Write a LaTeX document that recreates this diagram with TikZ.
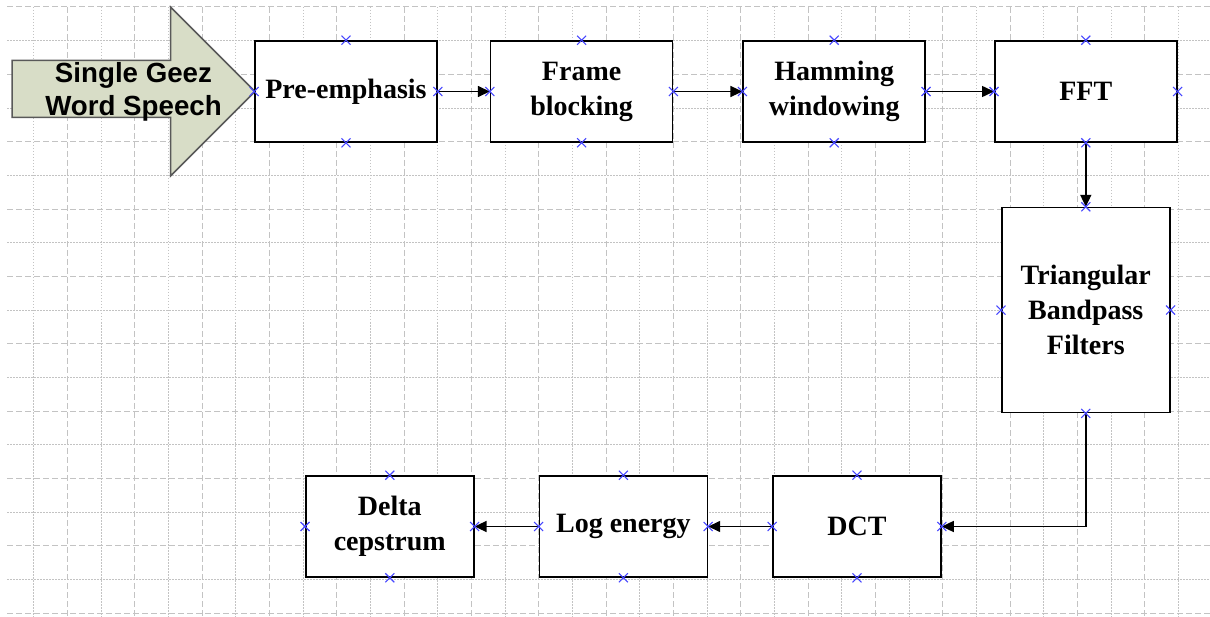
\documentclass[tikz,border=0pt]{standalone}
\usepackage{fontspec}
\setmainfont{Liberation Serif}
\newfontfamily\arrowfont{Liberation Sans}
\usetikzlibrary{arrows.meta,positioning}
\definecolor{gridgray}{RGB}{195,195,195}
\definecolor{arrowfill}{RGB}{216,221,199}
\definecolor{markblue}{RGB}{70,70,255}

\begin{document}
\begin{tikzpicture}[
  x=1pt,y=-1pt,
  font=\bfseries\fontsize{28}{35}\selectfont,
  every node/.style={align=center},
  block/.style={draw,line width=1.6pt,fill=white,inner sep=0pt,minimum width=182pt,minimum height=101pt},
  narrow/.style={block,minimum width=168pt},
  bigarrow/.style={draw=black!65,line width=1.5pt,fill=arrowfill},
  to/.style={->,>={Triangle[length=12pt,width=11pt]},line width=1.5pt},
  xmark/.style={markblue,line width=1.1pt},
  major/.style={gridgray,line width=1pt,dash pattern=on 6pt off 3pt},
  minor/.style={gridgray,line width=1pt,dash pattern=on 1.5pt off 1.5pt}]

  \useasboundingbox (0,0) rectangle (1210,617);

  % background grid, dashed and dotted lines in turn
  \foreach \k in {0,...,18}{
    \pgfmathsetmacro{\yy}{7+33.67*\k}
    \ifodd\k \draw[minor] (7,\yy) -- (1210,\yy); \else \draw[major] (7,\yy) -- (1210,\yy); \fi
  }
  \foreach \k in {1,...,35}{
    \pgfmathsetmacro{\xx}{33.67*\k}
    \ifodd\k \draw[minor] (\xx,7) -- (\xx,617); \else \draw[major] (\xx,7) -- (\xx,617); \fi
  }

  % the speech input arrow
  \draw[bigarrow] (12,60.5) -- (170.5,60.5) -- (170.5,7) -- (255,91.5) -- (170.5,176) -- (170.5,117.5) -- (12,117.5) -- cycle;
  \node (speech) at (133.5,91.5) [font=\arrowfont\bfseries\fontsize{27.7}{33}\selectfont] {Single Geez\\Word Speech};

  % top row
  \node[block] (pre) at (346,91.5) {Pre-emphasis};
  \node[block, right=52pt of pre] (frame) {Frame\\blocking};
  \node[block, right=69pt of frame] (ham) {Hamming\\windowing};
  \node[block, right=68pt of ham] (fft) {FFT};

  % right column
  \node[narrow, below=64pt of fft, minimum height=205pt] (tri) {Triangular\\Bandpass\\Filters};

  % bottom row, right to left
  \node[narrow] (dct) at (857,526.5) {DCT};
  \node[narrow, left=64pt of dct] (logen) {Log energy};
  \node[narrow, left=64pt of logen] (delta) {Delta\\cepstrum};

  % the arrows
  \draw[to] (pre) -- (frame);
  \draw[to] (frame) -- (ham);
  \draw[to] (ham) -- (fft);
  \draw[to] (fft) -- (tri);
  \draw[to] (tri.south) |- (dct.east);
  \draw[to] (dct) -- (logen);
  \draw[to] (logen) -- (delta);

  % blue connection marks on every box
  \foreach \n in {pre,frame,ham,fft,tri,dct,logen,delta}
    \foreach \a in {north,south,east,west}
      \draw[xmark] (\n.\a) +(-4.5,-4.5) -- +(4.5,4.5) +(-4.5,4.5) -- +(4.5,-4.5);
\end{tikzpicture}
\end{document}
